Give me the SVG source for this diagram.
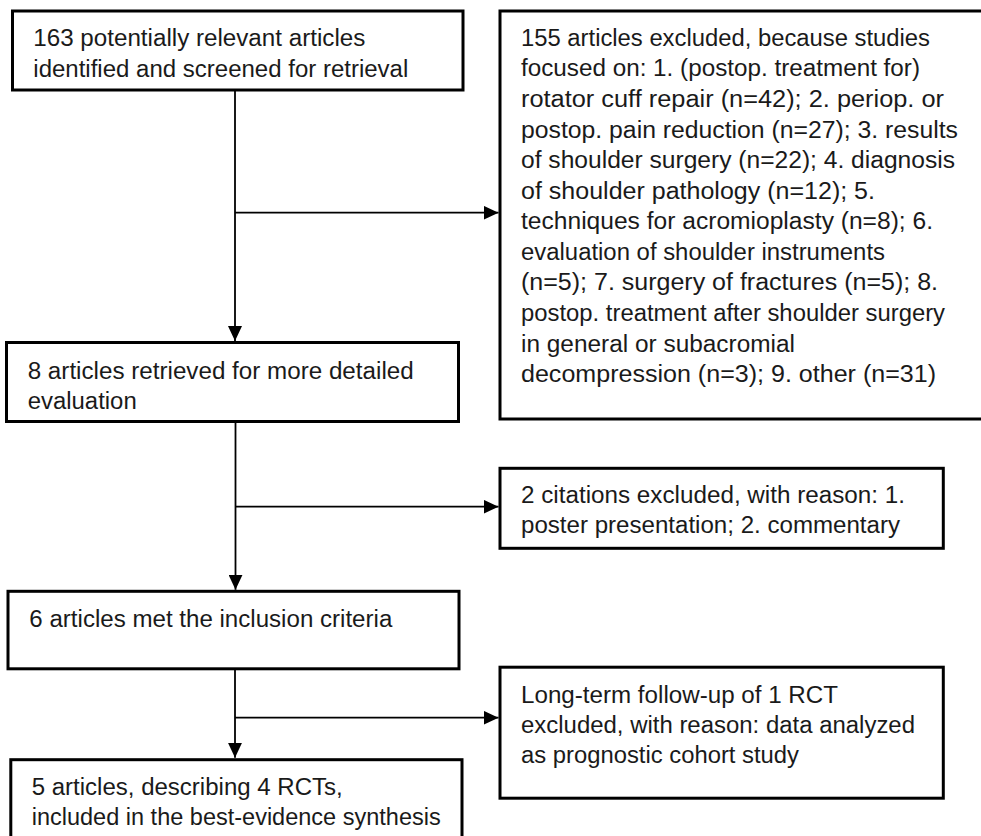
<svg xmlns="http://www.w3.org/2000/svg" width="981" height="836" viewBox="0 0 981 836">
  <style>
    .box { fill: #fff; stroke: #000; stroke-width: 3; }
    .txt { font-family: "Liberation Sans", Arial, sans-serif; font-size: 23.5px; fill: #1a1a1a; }
    .conn { fill: none; stroke: #000; stroke-width: 1.8; }
  </style>
  <defs>
    <marker id="arrow" markerUnits="userSpaceOnUse" markerWidth="15" markerHeight="14" refX="15" refY="7" orient="auto">
      <path d="M0,0 L15,7 L0,14 z" fill="#000"/>
    </marker>
  </defs>
  <rect width="981" height="836" fill="#fff"/>

  <g id="connectors">
    <path class="conn" d="M235,90 V341" marker-end="url(#arrow)"/>
    <path class="conn" d="M235,212.7 H498.5" marker-end="url(#arrow)"/>
    <path class="conn" d="M235.5,421.5 V589.8" marker-end="url(#arrow)"/>
    <path class="conn" d="M235.5,506.7 H498.5" marker-end="url(#arrow)"/>
    <path class="conn" d="M235,669 V757.8" marker-end="url(#arrow)"/>
    <path class="conn" d="M235,717.7 H498.5" marker-end="url(#arrow)"/>
  </g>

  <g id="identified">
    <rect class="box" x="12.5" y="11" width="450.5" height="79"/>
    <text class="txt" x="33.3" y="45.7" textLength="332" lengthAdjust="spacingAndGlyphs">163 potentially relevant articles</text>
    <text class="txt" x="33.3" y="77" textLength="375" lengthAdjust="spacingAndGlyphs">identified and screened for retrieval</text>
  </g>

  <g id="excluded155">
    <rect class="box" x="500" y="11" width="490" height="408"/>
    <text class="txt" x="521" y="45.7" textLength="409" lengthAdjust="spacingAndGlyphs">155 articles excluded, because studies</text>
    <text class="txt" x="521" y="76.3" textLength="399" lengthAdjust="spacingAndGlyphs">focused on: 1. (postop. treatment for)</text>
    <text class="txt" x="521" y="106.9" textLength="423" lengthAdjust="spacingAndGlyphs">rotator cuff repair (n=42); 2. periop. or</text>
    <text class="txt" x="521" y="137.5" textLength="437" lengthAdjust="spacingAndGlyphs">postop. pain reduction (n=27); 3. results</text>
    <text class="txt" x="521" y="168" textLength="434" lengthAdjust="spacingAndGlyphs">of shoulder surgery (n=22); 4. diagnosis</text>
    <text class="txt" x="521" y="198.6" textLength="354" lengthAdjust="spacingAndGlyphs">of shoulder pathology (n=12); 5.</text>
    <text class="txt" x="521" y="229.2" textLength="412" lengthAdjust="spacingAndGlyphs">techniques for acromioplasty (n=8); 6.</text>
    <text class="txt" x="521" y="259.8" textLength="364" lengthAdjust="spacingAndGlyphs">evaluation of shoulder instruments</text>
    <text class="txt" x="521" y="290.4" textLength="417" lengthAdjust="spacingAndGlyphs">(n=5); 7. surgery of fractures (n=5); 8.</text>
    <text class="txt" x="521" y="321" textLength="424" lengthAdjust="spacingAndGlyphs">postop. treatment after shoulder surgery</text>
    <text class="txt" x="521" y="351.6" textLength="274" lengthAdjust="spacingAndGlyphs">in general or subacromial</text>
    <text class="txt" x="521" y="382.2" textLength="415" lengthAdjust="spacingAndGlyphs">decompression (n=3); 9. other (n=31)</text>
  </g>

  <g id="retrieved">
    <rect class="box" x="6.5" y="342.5" width="452" height="79"/>
    <text class="txt" x="27.7" y="379" textLength="386" lengthAdjust="spacingAndGlyphs">8 articles retrieved for more detailed</text>
    <text class="txt" x="27.7" y="409.3" textLength="109" lengthAdjust="spacingAndGlyphs">evaluation</text>
  </g>

  <g id="excluded2">
    <rect class="box" x="500" y="468.3" width="443.3" height="80"/>
    <text class="txt" x="521" y="502.7" textLength="384" lengthAdjust="spacingAndGlyphs">2 citations excluded, with reason: 1.</text>
    <text class="txt" x="521" y="533.3" textLength="379" lengthAdjust="spacingAndGlyphs">poster presentation; 2. commentary</text>
  </g>

  <g id="met">
    <rect class="box" x="8" y="591.3" width="451" height="77.5"/>
    <text class="txt" x="29.3" y="626.7" textLength="363" lengthAdjust="spacingAndGlyphs">6 articles met the inclusion criteria</text>
  </g>

  <g id="excluded1">
    <rect class="box" x="500" y="667.2" width="443.3" height="131"/>
    <text class="txt" x="521" y="702.7" textLength="317" lengthAdjust="spacingAndGlyphs">Long-term follow-up of 1 RCT</text>
    <text class="txt" x="521" y="732.7" textLength="394" lengthAdjust="spacingAndGlyphs">excluded, with reason: data analyzed</text>
    <text class="txt" x="521" y="762.7" textLength="278" lengthAdjust="spacingAndGlyphs">as prognostic cohort study</text>
  </g>

  <g id="included">
    <rect class="box" x="10.8" y="759.7" width="451.2" height="100"/>
    <text class="txt" x="31.7" y="795" textLength="311" lengthAdjust="spacingAndGlyphs">5 articles, describing 4 RCTs,</text>
    <text class="txt" x="31.7" y="825" textLength="409" lengthAdjust="spacingAndGlyphs">included in the best-evidence synthesis</text>
  </g>
</svg>
